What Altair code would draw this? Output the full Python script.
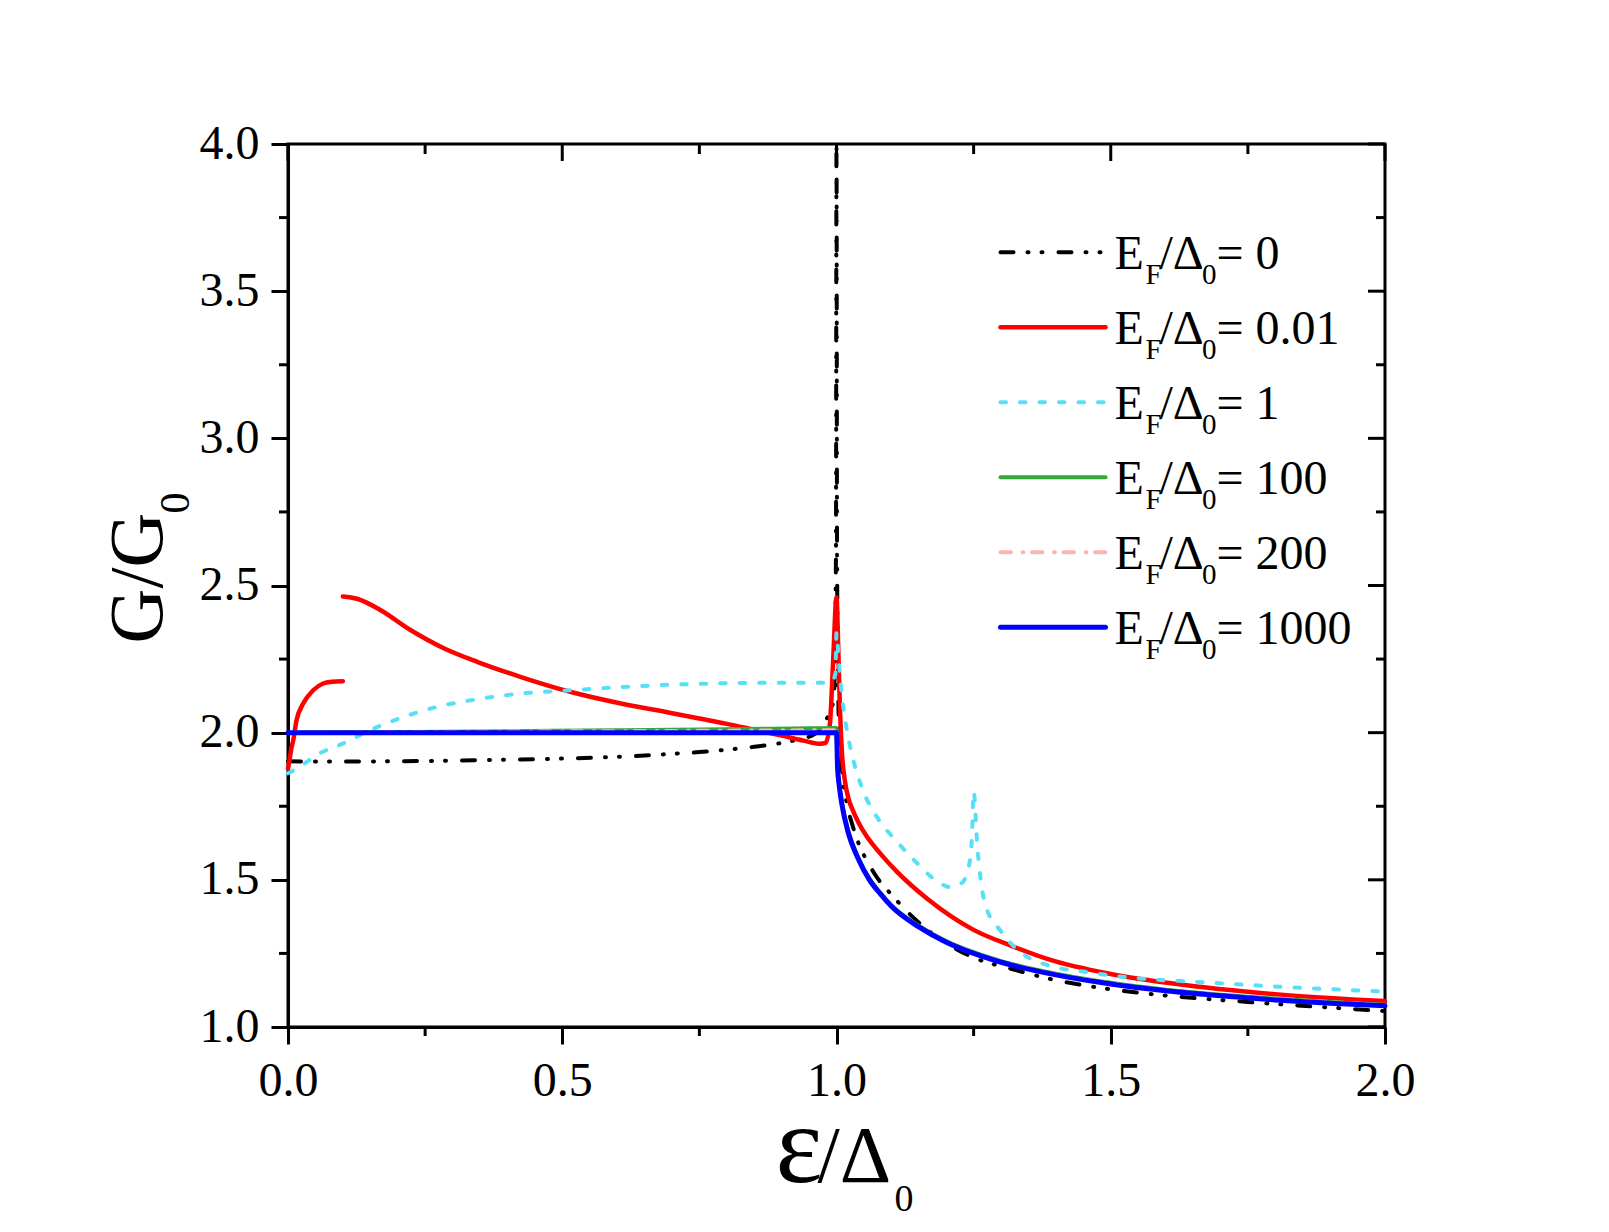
import altair as alt
import pandas as pd

FONT = "Liberation Serif"
W, H = 1097, 883

# ---- conductance curves G/G0 versus eps/Delta0 ----
# E_F/Delta0 = 0
x_ef0 = [0, 0.05, 0.1, 0.2, 0.3, 0.4, 0.5, 0.6, 0.7, 0.75, 0.8, 0.85, 0.9, 0.93, 0.96,
         0.98, 0.99, 0.995, 0.999, 1.0, 1.001, 1.004, 1.008, 1.0126, 1.02, 1.03, 1.04,
         1.06, 1.075, 1.1, 1.13, 1.166, 1.2, 1.25, 1.32, 1.39, 1.45, 1.5, 1.6, 1.67,
         1.75, 1.81, 1.9, 2.0]
y_ef0 = [1.903, 1.902, 1.902, 1.903, 1.905, 1.908, 1.912, 1.918, 1.928, 1.934, 1.942,
         1.952, 1.965, 1.977, 1.995, 2.04, 2.08, 2.115, 2.6, 4.0, 2.6, 2.05, 1.92, 1.83,
         1.75, 1.68, 1.625, 1.55, 1.505, 1.45, 1.39, 1.33, 1.285, 1.236, 1.197, 1.163,
         1.142, 1.128, 1.107, 1.096, 1.085, 1.077, 1.066, 1.054]

# E_F/Delta0 = 0.01 (two branches, broken at eps = 0.1)
x_ef001_a = [0, 0.003, 0.006, 0.0095, 0.0156, 0.0277, 0.046, 0.064, 0.08, 0.1]
y_ef001_a = [1.878, 1.91, 1.945, 1.974, 2.042, 2.099, 2.144, 2.167, 2.173, 2.175]
x_ef001_b = [0.1, 0.126, 0.169, 0.224, 0.285, 0.346, 0.425, 0.516, 0.607, 0.698, 0.75,
             0.8, 0.85, 0.9, 0.94, 0.97, 0.98, 0.988, 0.994, 1.0, 1.003, 1.006, 1.01,
             1.015, 1.022, 1.03, 1.04, 1.055, 1.075, 1.11, 1.166, 1.25, 1.32, 1.39, 1.5,
             1.67, 1.81, 2.0]
y_ef001_b = [2.463, 2.455, 2.416, 2.348, 2.286, 2.240, 2.189, 2.138, 2.099, 2.067, 2.048,
             2.03, 2.01, 1.99, 1.973, 1.962, 1.965, 2.03, 2.25, 2.46, 2.3, 2.1, 1.93,
             1.84, 1.775, 1.735, 1.695, 1.648, 1.6, 1.528, 1.435, 1.33, 1.275, 1.228,
             1.18, 1.135, 1.11, 1.088]

# E_F/Delta0 = 1
x_ef1 = [0, 0.0204, 0.057, 0.1, 0.149, 0.21, 0.27, 0.333, 0.425, 0.516, 0.607, 0.698,
         0.8, 0.9, 0.99, 0.998, 1.0, 1.004, 1.008, 1.017, 1.029, 1.047, 1.075, 1.11,
         1.145, 1.18, 1.208, 1.229, 1.243, 1.247, 1.25, 1.257, 1.271, 1.299, 1.34,
         1.389, 1.459, 1.529, 1.669, 1.808, 2.0]
y_ef1 = [1.862, 1.883, 1.929, 1.963, 2.008, 2.053, 2.087, 2.110, 2.133, 2.144, 2.155,
         2.163, 2.168, 2.170, 2.170, 2.2, 2.34, 2.25, 2.16, 2.03, 1.92, 1.81, 1.71,
         1.63, 1.56, 1.50, 1.475, 1.49, 1.563, 1.65, 1.80, 1.608, 1.417, 1.327, 1.248,
         1.208, 1.186, 1.169, 1.152, 1.137, 1.12]

# E_F/Delta0 = 100
x_ef100 = [0, 0.1, 0.2, 0.4, 0.6, 0.8, 0.95, 1.0, 1.002, 1.005, 1.01, 1.02, 1.04, 1.06,
           1.08, 1.1, 1.15, 1.2, 1.25, 1.3, 1.4, 1.5, 1.6, 1.7, 1.8, 1.9, 2.0]
y_ef100 = [2.0, 2.001, 2.002, 2.005, 2.008, 2.012, 2.015, 2.016, 1.886, 1.825, 1.76,
           1.675, 1.574, 1.505, 1.456, 1.414, 1.344, 1.292, 1.254, 1.224, 1.181, 1.15,
           1.127, 1.11, 1.096, 1.085, 1.076]

# E_F/Delta0 = 200
x_ef200 = [0, 0.3, 0.6, 1.0, 1.002, 1.005, 1.01, 1.02, 1.04, 1.06, 1.08, 1.1, 1.15,
           1.2, 1.25, 1.3, 1.4, 1.5, 1.6, 1.7, 1.8, 1.9, 2.0]
y_ef200 = [2.0, 2.003, 2.005, 2.008, 1.883, 1.822, 1.757, 1.672, 1.572, 1.502, 1.454,
           1.412, 1.342, 1.29, 1.252, 1.222, 1.179, 1.148, 1.125, 1.108, 1.094, 1.083,
           1.074]

# E_F/Delta0 = 1000
x_ef1000 = [0, 1.0, 1.002, 1.005, 1.01, 1.02, 1.04, 1.06, 1.08, 1.1, 1.15, 1.2, 1.25,
            1.3, 1.4, 1.5, 1.6, 1.7, 1.8, 1.9, 2.0]
y_ef1000 = [2.0, 2.0, 1.88, 1.82, 1.755, 1.67, 1.57, 1.50, 1.452, 1.41, 1.34, 1.288,
            1.25, 1.22, 1.177, 1.146, 1.123, 1.106, 1.092, 1.081, 1.072]

legend_values = ["0", "0.01", "1", "100", "200", "1000"]

# axis ticks
x_major = [0.0, 0.5, 1.0, 1.5, 2.0]
x_minor = [0.25, 0.75, 1.25, 1.75]
y_major = [1.0, 1.5, 2.0, 2.5, 3.0, 3.5, 4.0]
y_minor = [1.25, 1.75, 2.25, 2.75, 3.25, 3.75]

# line styles: (color, dash, width)
styles = [
    ("#000000", [13, 14, 1, 13, 1, 16], 4),
    ("#ff0000", None, 4.5),
    ("#55e0f8", [5.5, 14], 4),
    ("#33aa33", None, 4),
    ("#ffb4b4", [10.5, 11.5, 1, 8.5], 4),
    ("#0000ff", None, 5),
]

curves = [
    [(x_ef0, y_ef0)],
    [(x_ef001_a, y_ef001_a), (x_ef001_b, y_ef001_b)],
    [(x_ef1, y_ef1)],
    [(x_ef100, y_ef100)],
    [(x_ef200, y_ef200)],
    [(x_ef1000, y_ef1000)],
]

x_axis = alt.Axis(values=x_major, format=".1f", tickSize=17, tickWidth=3,
                  tickColor="black", domainWidth=3, domainColor="black",
                  labelFont=FONT, labelFontSize=48, labelColor="black",
                  labelPadding=13, labelFlush=False, labelOverlap=False,
                  grid=False, title=None)
y_axis = alt.Axis(values=y_major, format=".1f", tickSize=17, tickWidth=3,
                  tickColor="black", domainWidth=3, domainColor="black",
                  labelFont=FONT, labelFontSize=48, labelColor="black",
                  labelPadding=12, labelFlush=False, labelOverlap=False,
                  grid=False, title=None)
x_scale = alt.Scale(domain=[0, 2], nice=False, zero=False)
y_scale = alt.Scale(domain=[1, 4], nice=False, zero=False)


def X(field="x"):
    return alt.X(f"{field}:Q", scale=x_scale, axis=x_axis)


def Y(field="y"):
    return alt.Y(f"{field}:Q", scale=y_scale, axis=y_axis)


one = pd.DataFrame({"k": [0]})
layers = []

# curves
for (color, dash, width), branches in zip(styles, curves):
    rows = []
    for b, (xs, ys) in enumerate(branches):
        for xv, yv in zip(xs, ys):
            rows.append({"x": xv, "y": yv, "seg": b})
    mk = dict(color=color, strokeWidth=width, strokeCap="round",
              strokeJoin="round", interpolate="monotone")
    if dash:
        mk["strokeDash"] = dash
    layers.append(alt.Chart(pd.DataFrame(rows)).mark_line(**mk)
                  .encode(x=X(), y=Y(), detail="seg:N"))

# minor and mirrored ticks
tick = dict(color="black", strokeWidth=3)
xmaj = pd.DataFrame({"x": x_major})
xmin = pd.DataFrame({"x": x_minor})
ymaj = pd.DataFrame({"y": y_major})
ymin = pd.DataFrame({"y": y_minor})
layers += [
    alt.Chart(xmin).mark_rule(**tick).encode(x=X(), y=alt.value(H), y2=alt.value(H + 9)),
    alt.Chart(xmaj).mark_rule(**tick).encode(x=X(), y=alt.value(0), y2=alt.value(17)),
    alt.Chart(xmin).mark_rule(**tick).encode(x=X(), y=alt.value(0), y2=alt.value(10)),
    alt.Chart(ymin).mark_rule(**tick).encode(y=Y(), x=alt.value(-9), x2=alt.value(0)),
    alt.Chart(ymaj).mark_rule(**tick).encode(y=Y(), x=alt.value(W - 17), x2=alt.value(W)),
    alt.Chart(ymin).mark_rule(**tick).encode(y=Y(), x=alt.value(W - 9), x2=alt.value(W)),
]


def label(text, x, y, size, angle=0):
    kw = dict(text=text, font=FONT, fontSize=size, color="black",
              align="left", baseline="alphabetic")
    if angle:
        kw["angle"] = angle
    return alt.Chart(one).mark_text(**kw).encode(x=alt.value(x), y=alt.value(y))


# legend
for i, ((color, dash, width), val) in enumerate(zip(styles, legend_values)):
    ly = 108.2 + 75 * i
    mk = dict(color=color, strokeWidth=width, strokeCap="round")
    if dash:
        mk["strokeDash"] = dash
    layers.append(alt.Chart(one).mark_rule(**mk).encode(
        x=alt.value(712.5), x2=alt.value(817.5), y=alt.value(ly)))
    layers += [
        label("E", 826.5, ly + 16.6, 48),
        label("F", 857.5, ly + 32, 29),
        label("/Δ", 871.5, ly + 16.6, 48),
        label("0", 914, ly + 32, 29),
        label("= " + val, 928.5, ly + 16.6, 48),
    ]

# axis titles
layers += [
    label("ε", 487.5, 1038.2, 112),
    label("/Δ", 529.5, 1038.2, 80),
    label("0", 606.5, 1067.2, 38),
    label("G/G", -125.8, 499.5, 76, angle=270),
    label("0", -99.5, 369.5, 42, angle=270),
]

chart = alt.layer(*layers).properties(
    width=W, height=H,
    autosize=alt.AutoSizeParams(type="none"),
    padding={"left": 288, "top": 144, "right": 224, "bottom": 205},
    background="white",
).configure_view(stroke="black", strokeWidth=3)

chart.save("out.html", embed_options={"renderer": "svg", "actions": False})
